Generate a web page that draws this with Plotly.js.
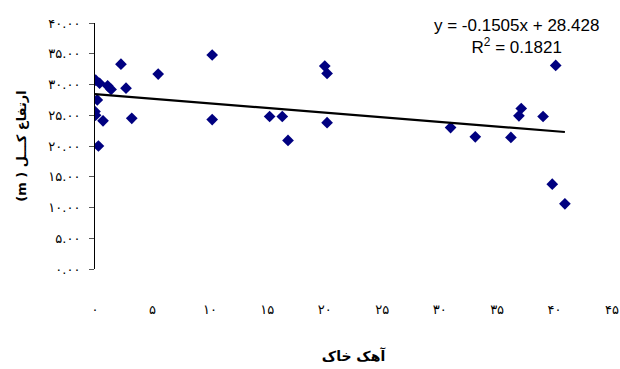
<!DOCTYPE html>
<html>
<head>
<meta charset="utf-8">
<script src="https://cdn.plot.ly/plotly-3.0.1.min.js"></script>
<style>html,body{margin:0;padding:0;background:#fff;}#chart{width:620px;height:369px;}</style>
</head>
<body>
<div id="chart"></div>
<script>
// Soil lime (x) vs total height (y)
const limeX = [0.06, 0.4, 1.1, 1.4, 0.2, 0.0, 0.05, 0.7, 0.3, 2.26, 2.7, 3.2, 5.5, 10.2, 10.2,
               15.2, 16.3, 16.8, 20.0, 20.2, 20.2,
               30.95, 33.1, 36.2, 37.1, 36.9, 39.0, 40.1, 39.8, 40.9];
const heightY = [30.7, 30.2, 29.8, 29.2, 27.5, 25.6, 25.0, 24.1, 20.0, 33.3, 29.4, 24.5, 31.7, 34.8, 24.3,
                 24.8, 24.8, 20.9, 33.0, 31.8, 23.8,
                 23.0, 21.5, 21.4, 26.1, 24.9, 24.8, 33.1, 13.8, 10.6];
const slope = -0.1505, intercept = 28.428, r2 = 0.1821;
const xTickVals = [0,5,10,15,20,25,30,35,40,45];
const xTickText = ['۰','۵','۱۰','۱۵','۲۰','۲۵','۳۰','۳۵','۴۰','۴۵'];
const yTickVals = [0,5,10,15,20,25,30,35,40];
const yTickText = ['۰.۰۰','۵.۰۰','۱۰.۰۰','۱۵.۰۰','۲۰.۰۰','۲۵.۰۰','۳۰.۰۰','۳۵.۰۰','۴۰.۰۰'];
const xTitle = 'آهک خاک';
const yTitle = '(m ) ارتفاع کـــل';

const xMin = Math.min(...limeX), xMax = Math.max(...limeX);
const trendX = [xMin, xMax];
const trendY = trendX.map(v => slope * v + intercept);

const data = [
  {x: limeX, y: heightY, type: 'scatter', mode: 'markers',
   marker: {symbol: 'diamond', size: 9, color: '#000080'}, hoverinfo: 'none'},
  {x: trendX, y: trendY, type: 'scatter', mode: 'lines',
   line: {color: '#000000', width: 2.2}, hoverinfo: 'none'}
];

const layout = {
  width: 620, height: 369,
  margin: {l: 95, r: 8, t: 23, b: 100},
  paper_bgcolor: '#ffffff', plot_bgcolor: '#ffffff',
  showlegend: false,
  font: {family: 'DejaVu Sans, Liberation Sans, sans-serif', color: '#000'},
  xaxis: {
    range: [0, 45], tickvals: xTickVals, ticktext: xTickText,
    showgrid: false, zeroline: false, showline: false, ticks: '',
    tickfont: {size: 13, family: 'DejaVu Sans', color: '#000'},
    ticklabelstandoff: 31,
    title: {text: '<b>' + xTitle + '</b>', font: {size: 14, family: 'DejaVu Sans', color: '#000'}, standoff: 35}
  },
  yaxis: {
    range: [0, 40], tickvals: yTickVals, ticktext: yTickText,
    showgrid: false, zeroline: false, showline: true, linecolor: '#000', linewidth: 1,
    ticks: 'outside', ticklen: 5, tickcolor: '#555',
    tickfont: {size: 13, family: 'DejaVu Sans', color: '#000'},
    ticklabelstandoff: 6,
    title: {text: '<b>' + yTitle + '</b>', font: {size: 13, family: 'DejaVu Sans', color: '#000'}, standoff: 18}
  },
  annotations: [{
    xref: 'paper', yref: 'paper', x: 0.815, y: 1.035, xanchor: 'center', yanchor: 'top',
    text: 'y = ' + slope.toFixed(4) + 'x + ' + intercept.toFixed(3) + '<br>R<sup>2</sup> = ' + r2.toFixed(4),
    showarrow: false, align: 'center',
    font: {size: 17, family: 'Liberation Sans, Arial, sans-serif', color: '#000'}
  }]
};

Plotly.newPlot('chart', data, layout, {displayModeBar: false, staticPlot: true});
</script>
</body>
</html>
